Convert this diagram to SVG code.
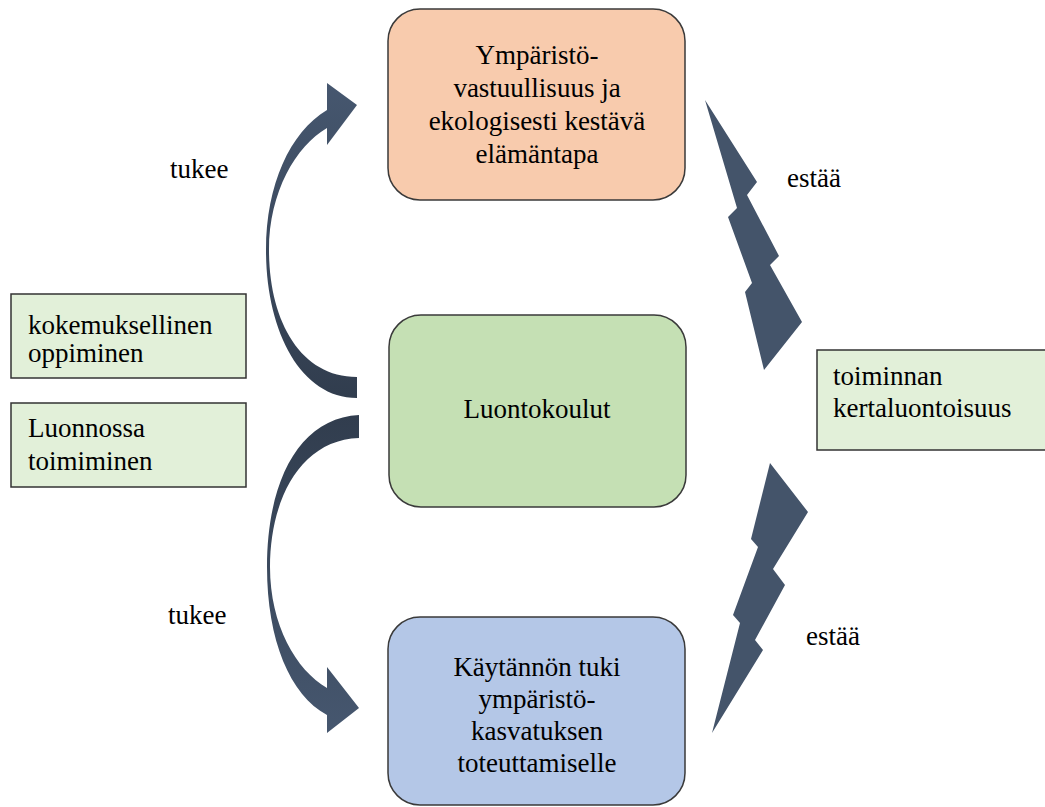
<svg xmlns="http://www.w3.org/2000/svg" width="1045" height="807" viewBox="0 0 1045 807">
<defs>
<linearGradient id="gUp" x1="0" y1="0" x2="0" y2="1"><stop offset="0" stop-color="#46576f"/><stop offset="1" stop-color="#313d4e"/></linearGradient>
<linearGradient id="gDown" x1="0" y1="0" x2="0" y2="1"><stop offset="0" stop-color="#313d4e"/><stop offset="1" stop-color="#46576f"/></linearGradient>
</defs>
<style>
text{font-family:"Liberation Serif","Times New Roman",serif;font-size:27px;fill:#000}
.c{text-anchor:middle}
.big{stroke:#3a3a3a;stroke-width:1.5}
.small{fill:#e2f0d9;stroke:#333;stroke-width:1.5}
.bolt{fill:#44546a}
</style>
<rect width="1045" height="807" fill="#fff"/>
<g id="node-top">
<rect class="big" x="388" y="9" width="297" height="191" rx="32" fill="#f8cbad"/>
<text class="c" x="537" y="64">Ympäristö-</text>
<text class="c" x="537" y="97">vastuullisuus ja</text>
<text class="c" x="537" y="130">ekologisesti kestävä</text>
<text class="c" x="537" y="163">elämäntapa</text>
</g>
<g id="node-middle">
<rect class="big" x="389" y="315" width="297" height="192" rx="32" fill="#c5e0b4"/>
<text class="c" x="537" y="418">Luontokoulut</text>
</g>
<g id="node-bottom">
<rect class="big" x="388" y="617" width="297" height="188" rx="32" fill="#b4c7e7"/>
<text class="c" x="537" y="676">Käytännön tuki</text>
<text class="c" x="537" y="708">ympäristö-</text>
<text class="c" x="537" y="740">kasvatuksen</text>
<text class="c" x="537" y="772">toteuttamiselle</text>
</g>
<g id="node-kokemuksellinen">
<rect class="small" x="11" y="294" width="235" height="84"/>
<text x="28" y="334">kokemuksellinen</text>
<text x="28" y="362">oppiminen</text>
</g>
<g id="node-luonnossa">
<rect class="small" x="11" y="403" width="235" height="84"/>
<text x="28" y="437">Luonnossa</text>
<text x="28" y="470">toimiminen</text>
</g>
<g id="node-kertaluontoisuus">
<rect class="small" x="817" y="350" width="230" height="100"/>
<text x="833" y="385">toiminnan</text>
<text x="833" y="417">kertaluontoisuus</text>
</g>
<g id="connectors">
<path fill="url(#gUp)" d="M357,398 C300,398 266,330 266,250 C266,185 290,132 327,110 L327,83 L357,105 L327,145 L327,128 C296,146 269,192 269,250 C269,320 300,377 357,377 Z"/>
<path fill="url(#gDown)" d="M359,415 C300,418 267,480 267,567 C267,640 290,695 327,715 L327,733 L359,708 L327,667 L327,688 C296,670 270,625 270,567 C270,500 300,440 359,438 Z"/>
<polygon class="bolt" points="705,100 757,182 747,195 779,256 770,265 802,322 764,370 745,292 752,283 728,217 737,208"/>
<polygon class="bolt" points="770,463 808,512 773,569 785,585 755,640 763,650 712,733 740,623 733,615 758,547 751,539"/>
<text x="170" y="178">tukee</text>
<text x="168" y="624">tukee</text>
<text x="787" y="187">estää</text>
<text x="806" y="645">estää</text>
</g>
</svg>
